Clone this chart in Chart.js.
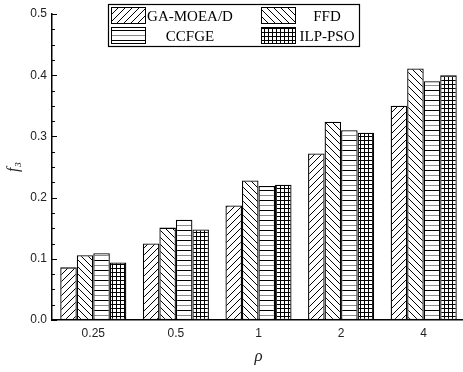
<!DOCTYPE html>
<html>
<head>
<meta charset="utf-8">
<script src="https://cdn.jsdelivr.net/npm/chart.js@4/dist/chart.umd.min.js"></script>
<style>
    html, body { margin: 0; padding: 0; background: #fff; overflow: hidden; }
</style>
</head>
<body>
<canvas id="chart" width="472" height="372"></canvas>
<script>
// values
const categories = ['0.25', '0.5', '1', '2', '4'];
const seriesNames = ['GA-MOEA/D', 'FFD', 'CCFGE', 'ILP-PSO'];
const gaMoead = [0.086, 0.125, 0.187, 0.272, 0.350];
const ffd = [0.106, 0.151, 0.228, 0.324, 0.411];
const ccfge = [0.109, 0.164, 0.219, 0.310, 0.390];
const ilpPso = [0.094, 0.148, 0.221, 0.306, 0.400];
const yTicks = [0.0, 0.1, 0.2, 0.3, 0.4, 0.5];

(() => {
    const canvas = document.getElementById('chart');
    const ctx = canvas.getContext('2d');

    // hatch fills, one per series
    const makePattern = kind => {
        const s = kind === 'grid' ? 4 : kind === 'hline' ? 10 : 7;
        const c = document.createElement('canvas');
        c.width = s;
        c.height = s;
        const g = c.getContext('2d');
        g.fillStyle = '#fff';
        g.fillRect(0, 0, s, s);
        g.lineWidth = 1;
        g.strokeStyle = '#000';
        g.beginPath();
        if (kind === 'slash') {
            g.moveTo(-1, s + 1); g.lineTo(s + 1, -1);
            g.moveTo(-1, 1); g.lineTo(1, -1);
            g.moveTo(s - 1, s + 1); g.lineTo(s + 1, s - 1);
        } else if (kind === 'backslash') {
            g.moveTo(-1, -1); g.lineTo(s + 1, s + 1);
            g.moveTo(s - 1, -1); g.lineTo(s + 1, 1);
            g.moveTo(-1, s - 1); g.lineTo(1, s + 1);
        } else if (kind === 'hline') {
            g.moveTo(0, 0.5); g.lineTo(s, 0.5);
        } else {
            g.moveTo(0, 0.5); g.lineTo(s, 0.5);
            g.moveTo(0.5, 0); g.lineTo(0.5, s);
        }
        g.stroke();
        if (kind === 'hline') {
            g.strokeStyle = '#8a8a8a';
            g.beginPath();
            g.moveTo(0, 5.5); g.lineTo(s, 5.5);
            g.stroke();
        }
        return ctx.createPattern(c, 'repeat');
    };

    const fills = [makePattern('slash'), makePattern('backslash'), makePattern('hline'), makePattern('grid')];
    const seriesData = [gaMoead, ffd, ccfge, ilpPso];

    // inward major/minor ticks on the y axis
    const innerTicks = {
        id: 'innerTicks',
        afterDatasetsDraw(chart) {
            const y = chart.scales.y;
            const left = chart.chartArea.left;
            const c = chart.ctx;
            c.save();
            c.strokeStyle = '#000';
            c.lineWidth = 1;
            for (let i = 0; i <= 20; i++) {
                const py = Math.round(y.getPixelForValue(i * 0.025)) + 0.5;
                const len = i % 4 === 0 ? 5 : 3;
                c.beginPath();
                c.moveTo(left, py);
                c.lineTo(left + len, py);
                c.stroke();
            }
            c.restore();
        }
    };

    // boxed 2x2 legend sitting over the plot
    const boxLegend = {
        id: 'boxLegend',
        afterDraw(chart) {
            const c = chart.ctx;
            c.save();
            c.fillStyle = '#fff';
            c.fillRect(108, 4, 252, 43);
            c.strokeStyle = '#000';
            c.lineWidth = 1.2;
            c.strokeRect(108.5, 4.5, 251, 42);
            const cols = [{ sx: 111, tx: 190 }, { sx: 261, tx: 327 }];
            const rows = [{ sy: 7, ty: 16 }, { sy: 27, ty: 36 }];
            c.font = '15px "Liberation Serif", "Times New Roman", serif';
            c.textAlign = 'center';
            c.textBaseline = 'middle';
            seriesNames.forEach((name, i) => {
                const col = cols[i % 2];
                const row = rows[Math.floor(i / 2)];
                c.fillStyle = fills[i];
                c.fillRect(col.sx, row.sy, 35, 17);
                c.lineWidth = 1;
                c.strokeRect(col.sx + 0.5, row.sy + 0.5, 34, 16);
                c.fillStyle = '#000';
                c.fillText(name, col.tx, row.ty + 1);
            });
            c.restore();
        }
    };

    const tickFont = { family: '"Liberation Sans", Arial, sans-serif', size: 12 };

    new Chart(ctx, {
        type: 'bar',
        data: {
            labels: categories,
            datasets: seriesNames.map((name, i) => ({
                label: name,
                data: seriesData[i],
                backgroundColor: fills[i],
                borderColor: '#000',
                borderWidth: 1.3,
                borderSkipped: false,
                categoryPercentage: 0.8,
                barPercentage: 1.0
            }))
        },
        options: {
            responsive: false,
            animation: false,
            layout: { padding: { top: 14, right: 7, left: 0, bottom: 0 } },
            plugins: {
                legend: { display: false },
                tooltip: { enabled: false }
            },
            scales: {
                x: {
                    grid: { display: false, drawTicks: false },
                    border: { display: true, color: '#000', width: 1.5 },
                    ticks: { font: tickFont, color: '#222', padding: 6 },
                    title: {
                        display: true,
                        text: 'ρ',
                        color: '#222',
                        font: { family: '"Liberation Serif", serif', style: 'italic', size: 17 },
                        padding: { top: 0, bottom: 5 }
                    },
                    afterFit: s => { s.height = 52; }
                },
                y: {
                    min: 0,
                    max: 0.5,
                    afterBuildTicks: s => { s.ticks = yTicks.map(v => ({ value: v })); },
                    grid: { display: false, drawTicks: false },
                    border: { display: true, color: '#000', width: 1.5 },
                    ticks: {
                        font: tickFont,
                        color: '#222',
                        padding: 5,
                        callback: v => Number(v).toFixed(1)
                    },
                    title: {
                        display: true,
                        text: 'f₃',
                        color: '#222',
                        font: { family: '"Liberation Serif", serif', style: 'italic', size: 16 },
                        padding: { top: 4, bottom: 0 }
                    },
                    afterFit: s => { s.width = 52; }
                }
            }
        },
        plugins: [innerTicks, boxLegend]
    });
})();
</script>
</body>
</html>
